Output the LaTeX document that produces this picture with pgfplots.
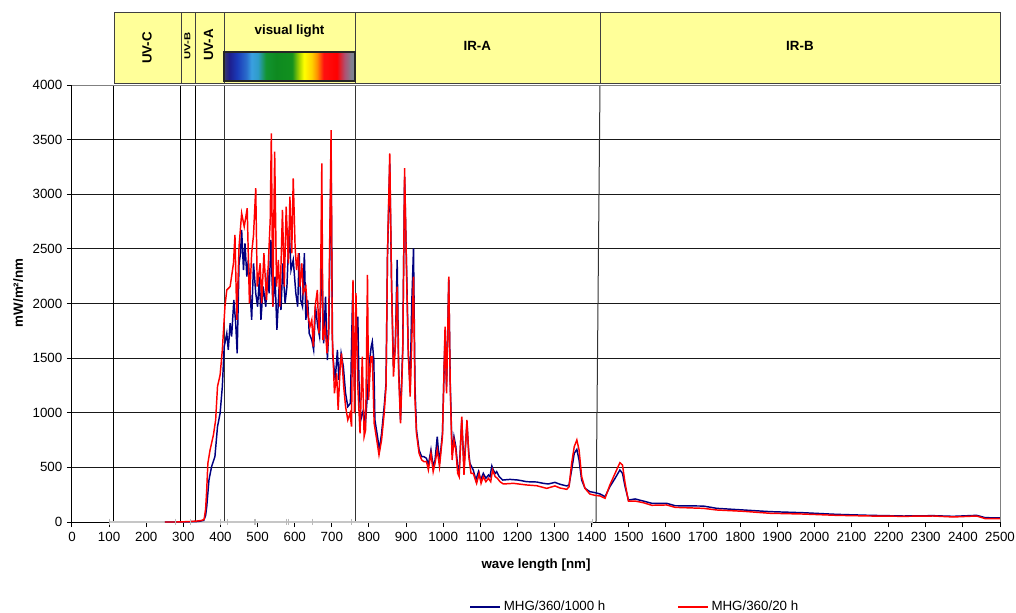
\documentclass[border=0pt]{standalone}
\usepackage{fontspec}
\setmainfont{Liberation Sans}
\usepackage{pgfplots}
\pgfplotsset{compat=1.18}
\definecolor{navyline}{HTML}{000080}
\definecolor{redline}{HTML}{FF0000}
\definecolor{boxyellow}{HTML}{FFFF99}
\definecolor{s0}{HTML}{3A3A6A}
\definecolor{s1}{HTML}{1E1E8C}
\definecolor{s2}{HTML}{1A3AB8}
\definecolor{s3}{HTML}{2A6CCC}
\definecolor{s4}{HTML}{3AA0E0}
\definecolor{s5}{HTML}{2E9CC8}
\definecolor{s6}{HTML}{129430}
\definecolor{s7}{HTML}{0E8A20}
\definecolor{s8}{HTML}{12901E}
\definecolor{s9}{HTML}{A0D000}
\definecolor{s10}{HTML}{FFFF00}
\definecolor{s11}{HTML}{FFD000}
\definecolor{s12}{HTML}{FF9000}
\definecolor{s13}{HTML}{FF1010}
\definecolor{s14}{HTML}{FF0000}
\definecolor{s15}{HTML}{B05070}
\definecolor{s16}{HTML}{808090}
\pgfdeclarehorizontalshading{spectrum}{100bp}{color(0bp)=(s0); color(25bp)=(s0); color(27bp)=(s1); color(30bp)=(s2); color(33.5bp)=(s3); color(35.5bp)=(s4); color(38bp)=(s5); color(41bp)=(s6); color(45bp)=(s7); color(51bp)=(s8); color(53.5bp)=(s9); color(55.5bp)=(s10); color(58.5bp)=(s11); color(60.5bp)=(s12); color(63bp)=(s13); color(68bp)=(s14); color(71bp)=(s15); color(73.5bp)=(s16); color(75bp)=(s16); color(100bp)=(s16)}
\begin{document}
\begin{tikzpicture}
\useasboundingbox (-54pt,-67.5pt) rectangle (708pt,391.5pt);
\begin{axis}[
  at={(0,0)}, anchor=south west,
  scale only axis, width=696pt, height=327.75pt,
  xmin=0, xmax=2500, ymin=0, ymax=4000,
  xtick={0,100,...,2500}, ytick={0,500,...,4000},
  axis x line*=bottom, axis y line*=left,
  axis line style={black, line width=0.75pt},
  tick align=outside, major tick length=3.75pt,
  tick style={black, line width=0.75pt},
  ymajorgrids, grid style={black!90, line width=0.6pt},
  scaled ticks=false,
  /pgf/number format/1000 sep={},
  /pgf/number format/assume math mode=true,
  tick label style={font=\fontsize{10}{12}\selectfont},
  clip=false,
  xlabel={\textbf{wave length [nm]}},
  xlabel style={at={(axis description cs:0.5,-0.0984)}, anchor=center, font=\fontsize{10}{12}\selectfont},
  ylabel={\textbf{mW/m²/nm}},
  ylabel style={at={(axis description cs:-0.058,0.524)}, anchor=center, rotate=0, font=\fontsize{10}{12}\selectfont},
  legend columns=2,
  legend style={at={(axis description cs:0.607,-0.194)}, anchor=center, draw=none, fill=none,
    font=\fontsize{10}{12}\selectfont, /tikz/every even column/.append style={column sep=52pt}},
  legend cell align=left,
  legend image code/.code={\draw[#1] (0pt,0pt) -- (22.5pt,0pt);},
]
% band boundary lines
\addplot[forget plot, black, line width=0.75pt] coordinates {(113.1,0)(113.1,4000)};
\addplot[forget plot, black, line width=0.75pt] coordinates {(293.6,0)(293.6,4000)};
\addplot[forget plot, black, line width=0.75pt] coordinates {(333.2,0)(333.2,4000)};
\addplot[forget plot, black!80, line width=0.75pt] coordinates {(409.5,0)(409.5,4000)};
\addplot[forget plot, black!80, line width=0.75pt] coordinates {(762.4,0)(762.4,4000)};
\addplot[forget plot, black!80, line width=0.75pt] coordinates {(1411.6,0)(1422.4,4000)};
% gray baseline markers
\addplot[forget plot, gray!45, line width=0.9pt, mark=|, mark size=2.6pt, mark options={gray!55, line width=0.8pt}] coordinates {
(102,0)(280,0)(320,0)(401,0)(419,0)(493,0)(577,0)(584,0)(649,0)(752,0)(1402,0)};
% MHG/360/1000 h
\addplot[navyline, line width=1.1pt] coordinates {
(250,0)(300,0)(340,5)(355,15)(360,60)(363,141)(369,385)(376,507)(385,598)(392,873)(399,995)(405,1240)(410,1605)(417,1727)(421,1575)(426,1819)(430,1697)(436,2032)(441,1819)(445,1544)(450,2368)(454,2460)(457,2673)(462,2307)(466,2551)(471,2246)(475,2399)(480,2094)(484,1850)(489,2368)(495,2094)(500,1971)(505,2246)(509,1850)(515,2155)(522,1971)(527,2307)(531,2094)(536,2582)(541,1971)(547,2246)(552,1758)(558,2155)(563,1941)(568,2368)(574,2002)(579,2155)(585,2673)(590,2307)(596,2399)(603,2094)(608,1971)(612,2460)(616,2032)(621,1971)(626,2460)(630,1850)(635,2032)(639,1727)(646,1666)(651,1575)(656,1971)(662,1788)(667,1697)(673,2400)(678,1636)(683,2063)(688,1483)(692,1788)(698,3300)(702,1544)(709,1300)(715,1575)(719,1300)(725,1544)(731,1422)(737,1178)(743,1056)(750,1087)(756,2094)(761,1239)(764,1544)(770,1880)(773,1300)(778,934)(785,1026)(790,873)(796,1178)(800,1422)(806,1605)(809,1651)(813,1483)(816,934)(823,782)(828,660)(834,812)(841,1056)(846,1270)(850,2460)(856,3283)(861,2155)(866,1422)(871,1605)(876,2399)(880,1422)(885,934)(891,1605)(896,3161)(902,2216)(906,1544)(911,1239)(915,1971)(920,2505)(924,1239)(928,843)(935,660)(942,598)(948,598)(955,583)(960,522)(967,660)(973,507)(978,568)(984,782)(990,538)(998,812)(1005,1727)(1009,1239)(1015,2216)(1019,1270)(1024,629)(1029,782)(1034,690)(1039,507)(1043,461)(1050,934)(1056,507)(1064,904)(1069,629)(1072,537)(1081,476)(1088,384)(1095,461)(1101,384)(1108,445)(1115,400)(1122,430)(1126,415)(1131,513)(1135,476)(1140,445)(1144,461)(1151,415)(1160,384)(1180,390)(1202,384)(1225,369)(1252,366)(1270,354)(1283,348)(1301,363)(1315,345)(1333,330)(1339,339)(1346,476)(1353,628)(1360,665)(1366,567)(1373,384)(1382,308)(1395,278)(1409,269)(1423,256)(1436,232)(1449,323)(1463,400)(1476,476)(1483,445)(1490,323)(1499,201)(1517,211)(1539,192)(1562,171)(1602,171)(1625,149)(1701,146)(1737,125)(1809,110)(1880,95)(1970,85)(2060,70)(2150,61)(2240,55)(2320,58)(2374,52)(2437,61)(2460,40)(2500,37)};
\addlegendentry{MHG/360/1000 h}
% MHG/360/20 h
\addplot[redline, line width=1.1pt] coordinates {
(250,0)(280,0)(300,2)(320,5)(340,10)(350,15)(356,25)(360,120)(363,300)(366,537)(372,660)(381,797)(387,934)(392,1240)(399,1346)(405,1575)(412,1971)(417,2124)(426,2155)(435,2368)(439,2627)(444,1850)(450,2520)(457,2826)(464,2704)(472,2872)(478,2002)(484,2460)(489,2627)(495,3055)(499,2155)(507,2368)(511,2002)(517,2460)(524,2032)(529,2368)(534,2765)(537,3558)(541,1971)(546,3390)(551,2155)(556,2399)(560,1971)(567,2856)(572,2155)(577,2887)(583,2368)(587,2978)(592,2460)(596,3146)(601,2520)(605,2307)(610,2460)(614,2155)(619,2368)(623,2094)(630,2155)(635,1910)(641,1788)(646,1850)(650,1605)(655,1971)(661,2124)(665,1727)(669,1971)(673,3283)(676,1666)(682,1788)(687,1544)(691,1697)(698,3588)(701,1727)(707,1178)(713,1361)(717,1026)(722,1392)(726,1544)(732,1239)(737,1056)(743,934)(749,995)(753,873)(757,2216)(761,995)(765,2094)(770,1239)(776,812)(782,1514)(787,782)(791,843)(796,2261)(799,1117)(805,1514)(809,1514)(814,904)(821,751)(827,614)(834,751)(841,995)(846,1239)(850,2460)(856,3375)(861,2155)(866,1331)(870,1544)(876,2155)(880,1361)(885,904)(891,1544)(896,3238)(902,2155)(906,1544)(911,1148)(915,1605)(920,2246)(924,1117)(928,812)(935,629)(942,568)(948,553)(955,553)(960,477)(967,629)(973,461)(978,538)(984,660)(990,507)(998,782)(1005,1788)(1009,1178)(1015,2246)(1019,1239)(1024,568)(1029,751)(1034,660)(1039,446)(1043,415)(1050,965)(1056,431)(1064,934)(1069,598)(1075,446)(1081,445)(1090,354)(1097,445)(1102,354)(1108,415)(1115,369)(1122,400)(1128,369)(1133,476)(1140,415)(1146,400)(1153,369)(1162,348)(1189,354)(1225,339)(1252,332)(1279,308)(1301,330)(1315,311)(1333,299)(1339,323)(1346,537)(1353,689)(1360,751)(1366,659)(1373,415)(1382,308)(1395,256)(1409,244)(1423,238)(1436,217)(1449,339)(1463,445)(1476,543)(1483,522)(1490,354)(1499,192)(1517,192)(1539,177)(1562,153)(1602,156)(1625,134)(1701,125)(1737,110)(1809,98)(1880,80)(1970,73)(2060,61)(2150,55)(2240,52)(2320,55)(2374,46)(2437,55)(2460,31)(2500,31)};
\addlegendentry{MHG/360/20 h}
% top and right border
\draw[gray, line width=0.75pt] (rel axis cs:0,1) -- (rel axis cs:1,1) -- (rel axis cs:1,0);
% header boxes
\draw[fill=boxyellow, draw=black!75, line width=0.6pt] (axis cs:113.1,4018) rectangle (axis cs:293.6,4668);
\draw[fill=boxyellow, draw=black!75, line width=0.6pt] (axis cs:293.6,4018) rectangle (axis cs:333.2,4668);
\draw[fill=boxyellow, draw=black!75, line width=0.6pt] (axis cs:333.2,4018) rectangle (axis cs:409.5,4668);
\draw[fill=boxyellow, draw=black!75, line width=0.6pt] (axis cs:409.5,4018) rectangle (axis cs:762.4,4668);
\draw[fill=boxyellow, draw=black!75, line width=0.6pt] (axis cs:762.4,4018) rectangle (axis cs:1422.4,4668);
\draw[fill=boxyellow, draw=black!75, line width=0.6pt] (axis cs:1422.4,4018) rectangle (axis cs:2500,4668);
\shade[shading=spectrum] (axis cs:409.5,4037) rectangle (axis cs:762.4,4302);
\draw[black!85, line width=1.4pt] (axis cs:409.5,4037) rectangle (axis cs:762.4,4302);
\node[rotate=90, font=\bfseries\fontsize{10}{12}\selectfont] at (axis cs:202,4339) {UV-C};
\node[rotate=90, xscale=1.3, font=\bfseries\fontsize{6.5}{8}\selectfont] at (axis cs:311,4357) {UV-B};
\node[rotate=90, font=\bfseries\fontsize{10}{12}\selectfont] at (axis cs:368,4366) {UV-A};
\node[font=\bfseries\fontsize{10}{12}\selectfont] at (axis cs:586,4490) {visual light};
\node[font=\bfseries\fontsize{10}{12}\selectfont] at (axis cs:1092,4357) {IR-A};
\node[font=\bfseries\fontsize{10}{12}\selectfont] at (axis cs:1961,4357) {IR-B};
\end{axis}
\end{tikzpicture}
\end{document}
